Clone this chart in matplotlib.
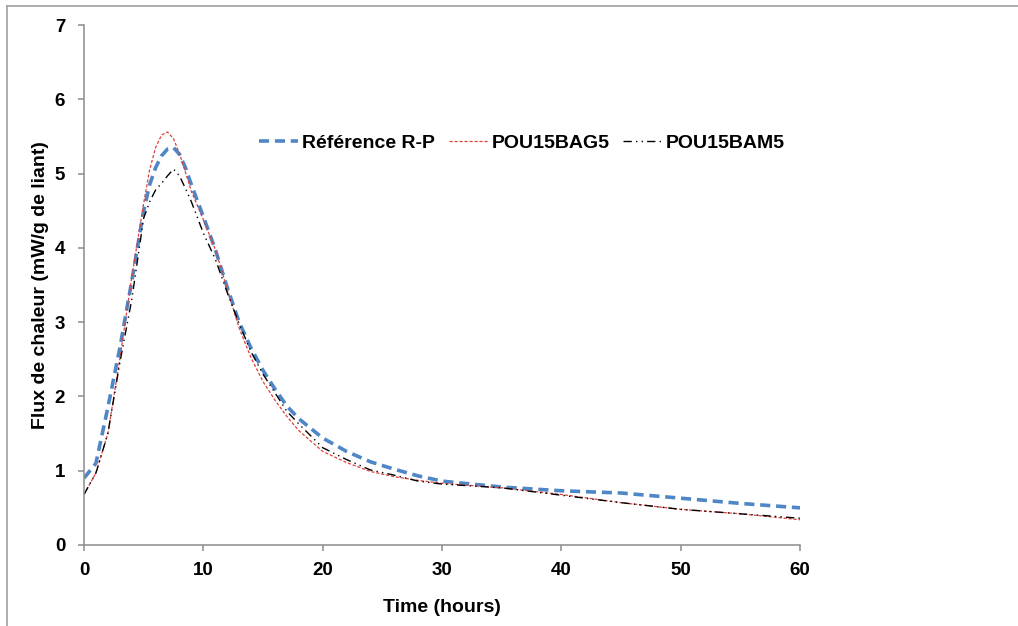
#!/usr/bin/env python3
import matplotlib
matplotlib.use('Agg')
import matplotlib.pyplot as plt
from matplotlib.lines import Line2D

# Heat flow data (hours, mW/g de liant)
hours = [0, 1, 2, 3, 4, 5, 5.5, 6, 6.5, 7, 7.5, 8, 8.5, 9, 10, 11, 12, 13, 14, 15,
         16, 17, 18, 20, 22, 24, 26, 28, 30, 35, 40, 45, 50, 55, 60]
ref_rp = [0.90, 1.10, 1.85, 2.65, 3.55, 4.50, 4.85, 5.08, 5.24, 5.33, 5.35, 5.26, 5.08, 4.85,
          4.42, 3.98, 3.47, 3.00, 2.65, 2.35, 2.10, 1.87, 1.70, 1.44, 1.26, 1.12, 1.02, 0.93,
          0.86, 0.78, 0.73, 0.70, 0.63, 0.56, 0.50]
bag5 = [0.68, 0.97, 1.50, 2.50, 3.60, 4.60, 5.05, 5.35, 5.52, 5.56, 5.47, 5.27, 5.02, 4.76,
        4.38, 3.98, 3.45, 2.92, 2.52, 2.20, 1.95, 1.73, 1.54, 1.26, 1.11, 0.99, 0.92, 0.87,
        0.83, 0.77, 0.68, 0.57, 0.48, 0.42, 0.34]
bam5 = [0.68, 0.97, 1.50, 2.45, 3.30, 4.40, 4.62, 4.78, 4.87, 4.97, 5.06, 4.97, 4.80, 4.62,
        4.20, 3.85, 3.40, 2.98, 2.60, 2.30, 2.05, 1.80, 1.63, 1.31, 1.15, 1.01, 0.94, 0.86,
        0.82, 0.77, 0.67, 0.57, 0.48, 0.42, 0.36]

x_ticks = [0, 10, 20, 30, 40, 50, 60]
y_ticks = [0, 1, 2, 3, 4, 5, 6, 7]

plt.rcParams['font.family'] = ['Liberation Sans', 'DejaVu Sans']
plt.rcParams['font.weight'] = 'bold'

fig = plt.figure(figsize=(10.18, 6.26), dpi=100)
ax = fig.add_axes([0.0825, 0.1294, 0.7034, 0.8306])

ax.plot(hours, ref_rp, color='#4F86C6', linewidth=2.6, dashes=(2.8, 1.6),
        label='Référence R-P')
ax.plot(hours, bag5, color='#E0403A', linewidth=0.9, dashes=(2.5, 1.5),
        label='POU15BAG5')
ax.plot(hours, bam5, color='black', linewidth=1.0, dashes=(6, 3, 1, 3, 1, 3),
        label='POU15BAM5')

ax.set_xlim(0, 60)
ax.set_ylim(0, 7)
ax.set_xticks(x_ticks)
ax.set_yticks(y_ticks)

for side in ['top', 'right']:
    ax.spines[side].set_visible(False)
for side in ['left', 'bottom']:
    ax.spines[side].set_color('#8c8c8c')
    ax.spines[side].set_linewidth(1.1)

ax.tick_params(axis='both', direction='out', length=4.5, width=1.1, color='#8c8c8c',
               labelsize=13.5)
ax.tick_params(axis='y', pad=9)
ax.tick_params(axis='x', pad=8)
for lbl in ax.get_xticklabels() + ax.get_yticklabels():
    lbl.set_fontweight('bold')

ax.set_xlabel('Time (hours)', fontsize=14, fontweight='bold')
ax.set_ylabel('Flux de chaleur (mW/g de liant)', fontsize=14, fontweight='bold')
ax.xaxis.set_label_coords(0.5, -0.104)
ax.yaxis.set_label_coords(-0.049, 0.5)

leg = ax.legend(loc='center', bbox_to_anchor=(0.612, 0.773), ncol=3, frameon=False,
                prop={'size': 14, 'weight': 'bold'}, handlelength=2.0,
                handletextpad=0.2, columnspacing=0.7)

# outer chart border (left and top edges only)
fig.add_artist(Line2D([0.0065, 0.0065], [0.0, 0.991], transform=fig.transFigure,
                      color='#a0a0a0', linewidth=1.2))
fig.add_artist(Line2D([0.0065, 1.0], [0.991, 0.991], transform=fig.transFigure,
                      color='#a0a0a0', linewidth=1.2))

fig.savefig('out.png', dpi=100)
